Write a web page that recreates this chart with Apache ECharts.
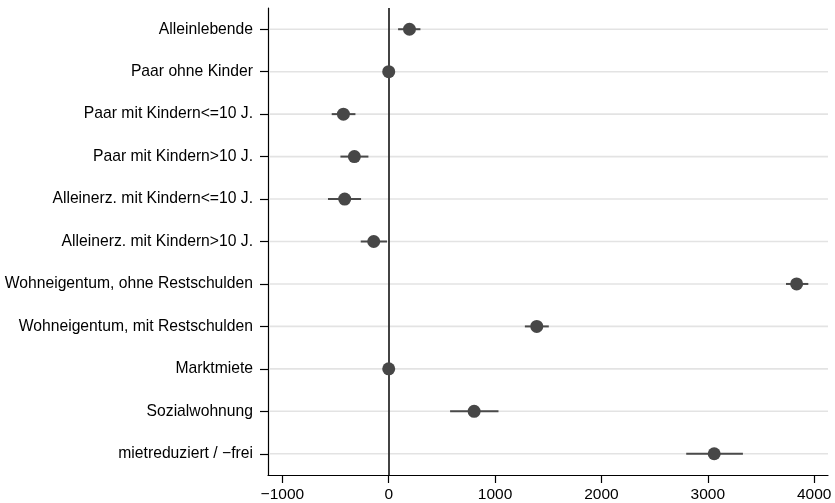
<!DOCTYPE html>
<html>
<head>
<meta charset="utf-8">
<script src="https://cdn.jsdelivr.net/npm/echarts@6/dist/echarts.min.js"></script>
<style>html,body{margin:0;padding:0;background:#fff}#c{width:835px;height:503px}</style>
</head>
<body>
<div id="c"></div>
<script>
const categories = [
  "Alleinlebende",
  "Paar ohne Kinder",
  "Paar mit Kindern<=10 J.",
  "Paar mit Kindern>10 J.",
  "Alleinerz. mit Kindern<=10 J.",
  "Alleinerz. mit Kindern>10 J.",
  "Wohneigentum, ohne Restschulden",
  "Wohneigentum, mit Restschulden",
  "Marktmiete",
  "Sozialwohnung",
  "mietreduziert / \u2212frei"
];
const estimates = [195, 0, -426, -323, -414, -141, 3835, 1392, 0, 803, 3060];
const ciLower   = [88, null, -536, -454, -571, -263, 3735, 1280, null, 577, 2797];
const ciUpper   = [298, null, -313, -191, -260, -16, 3945, 1505, null, 1032, 3330];
const xTicks = [-1000, 0, 1000, 2000, 3000, 4000];

const chart = echarts.init(document.getElementById('c'), null, {renderer: 'canvas'});
const ciData = categories.map((c, i) => [i, ciLower[i], ciUpper[i]]).filter(d => d[1] !== null);
const gridData = categories.map((c, i) => [i]);

chart.setOption({
  animation: false,
  grid: {left: 268, right: 7, top: 8, bottom: 28, containLabel: false},
  xAxis: {
    type: 'value', min: -1135, max: 4130,
    axisLine: {show: true, onZero: false, lineStyle: {color: '#000', width: 1.2}},
    axisTick: {show: true, length: 8, lineStyle: {color: '#000', width: 1.2}, customValues: xTicks},
    axisLabel: {color: '#000', fontSize: 15.5, fontFamily: 'Liberation Sans, Arial', margin: 12,
      customValues: xTicks, formatter: v => String(v).replace('-', '\u2212')},
    splitLine: {show: false}
  },
  yAxis: {
    type: 'category', data: categories, inverse: true,
    axisLine: {show: true, onZero: false, lineStyle: {color: '#000', width: 1.2}},
    axisTick: {show: true, alignWithLabel: true, length: 8, lineStyle: {color: '#000', width: 1.2}},
    axisLabel: {color: '#000', fontSize: 15.7, fontFamily: 'Liberation Sans, Arial', margin: 15},
    splitLine: {show: false}
  },
  series: [
    {
      type: 'custom', z: 1, silent: true,
      data: gridData,
      encode: {y: 0},
      renderItem: function (params, api) {
        const y = api.coord([0, api.value(0)])[1];
        const cs = params.coordSys;
        return {type: 'line', shape: {x1: cs.x + 1, y1: y, x2: cs.x + cs.width, y2: y},
          style: {stroke: '#e3e3e3', lineWidth: 1.6}};
      }
    },
    {
      type: 'custom', z: 3, silent: true,
      data: ciData,
      encode: {y: 0, x: [1, 2]},
      renderItem: function (params, api) {
        const p1 = api.coord([api.value(1), api.value(0)]);
        const p2 = api.coord([api.value(2), api.value(0)]);
        return {type: 'line', shape: {x1: p1[0], y1: p1[1], x2: p2[0], y2: p2[1]},
          style: {stroke: '#4a4a4a', lineWidth: 2}};
      }
    },
    {
      type: 'scatter', z: 4,
      data: estimates.map((v, i) => [v, i]),
      symbol: 'circle', symbolSize: 13,
      itemStyle: {color: '#474747', opacity: 1},
      markLine: {
        silent: true, symbol: 'none', label: {show: false}, z: 2,
        lineStyle: {color: '#2e2e2e', width: 1.8, type: 'solid'},
        data: [{xAxis: 0}]
      }
    }
  ]
});
</script>
</body>
</html>
